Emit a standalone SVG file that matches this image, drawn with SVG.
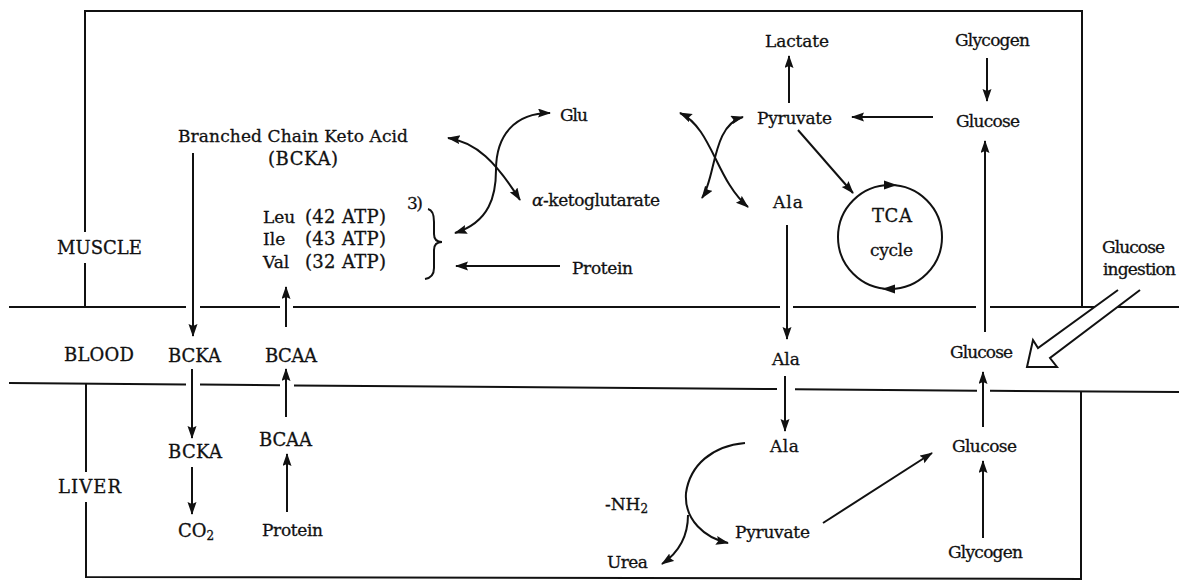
<svg xmlns="http://www.w3.org/2000/svg" width="1179" height="580" viewBox="0 0 1179 580">
<defs>
<style>
text{font-family:"DejaVu Serif","Liberation Serif",serif;font-size:17px;fill:#111;stroke:#111;stroke-width:0.3}
.cap{font-size:18px}
.ln{stroke:#111;stroke-width:2;fill:none}
.ar{stroke:#111;stroke-width:2;fill:none;marker-end:url(#ah)}
.ar2{stroke:#111;stroke-width:2;fill:none;marker-end:url(#ah);marker-start:url(#ah)}
</style>
<marker id="ah" markerUnits="userSpaceOnUse" markerWidth="14" markerHeight="10" refX="12" refY="4.5" orient="auto-start-reverse" viewBox="0 0 14 10">
<path d="M0,0 L13,4.5 L0,9 L2,4.5 z" fill="#111"/>
</marker>
</defs>
<rect width="1179" height="580" fill="#fff"/>

<g id="compartments" class="ln">
<path d="M85,232 L85,11 L1082,11 L1082,307"/>
<path d="M85,263 L85,307"/>
<path d="M9,307 L186,307 M200,307 L280,307 M293,307 L780,307 M793,307 L976,307 M990,307 L1179,307"/>
<path d="M9,383 L186,384.4 M200,384.5 L280,385.3 M294,385.4 L777,389.1 M795,389.3 L977,390.7 M990,390.8 L1179,392"/>
<path d="M86,384 L86,472 M86,502 L86,577 L1081,579 L1081,391"/>
</g>

<g id="connectors">
<line class="ar" x1="193" y1="153" x2="193" y2="336"/>
<line class="ar" x1="192" y1="369" x2="192" y2="438"/>
<line class="ar" x1="192" y1="467" x2="192" y2="514"/>
<line class="ar" x1="286" y1="327" x2="286" y2="287"/>
<line class="ar" x1="286" y1="417" x2="286" y2="369"/>
<line class="ar" x1="287" y1="512" x2="287" y2="454"/>
<line class="ar" x1="560" y1="266" x2="456" y2="266"/>
<path class="ar2" d="M455,233 C490,222 496,195 496,170 C496,135 515,113 550,113"/>
<path class="ar2" d="M448,138 C476,142 496,162 520,200"/>
<path class="ar2" d="M680,113 C712,128 716,180 748,207"/>
<path class="ar2" d="M702,198 C716,178 712,125 743,117"/>
<line class="ar" x1="789" y1="103" x2="789" y2="56"/>
<line class="ar" x1="987" y1="58" x2="987" y2="101"/>
<line class="ar" x1="933" y1="117" x2="852" y2="117"/>
<line class="ar" x1="798" y1="130" x2="853" y2="193"/>
<circle cx="890" cy="237" r="52" class="ln"/>
<path d="M897,185 L884,180.5 L884,189.5 z" fill="#111"/>
<path d="M882,289 L895,284.5 L895,293.5 z" fill="#111"/>
<line class="ar" x1="787" y1="225" x2="787" y2="339"/>
<line class="ar" x1="785" y1="376" x2="785" y2="431"/>
<line class="ar" x1="985" y1="332" x2="985" y2="141"/>
<line class="ar" x1="983" y1="427" x2="983" y2="372"/>
<line class="ar" x1="983" y1="538" x2="983" y2="461"/>
<line class="ar" x1="823" y1="523" x2="932" y2="453"/>
<path class="ar" d="M745,443 C712,446 690,465 686,493 C684,520 705,538 728,543"/>
<path class="ar" d="M688,515 C688,538 678,553 662,564"/>
<path class="ln" d="M428,209 C433,210 434,215 434,222 L434,234 C434,239 437,242 442,242 C437,242 434,245 434,250 L434,268 C434,274 431,278 425,279"/>
<path d="M1118,290 L1038,348 L1033,340 L1027,367 L1057,367 L1050,358 L1140,290" fill="#fff" stroke="#111" stroke-width="2" stroke-linejoin="miter"/>
</g>

<g id="labels">
<text class="cap" x="57" y="254" textLength="85">MUSCLE</text>
<text class="cap" x="64" y="361" textLength="70">BLOOD</text>
<text class="cap" x="58" y="493" textLength="63">LIVER</text>
</g>

<g id="node-bcka-muscle">
<text x="178" y="142" textLength="230">Branched Chain Keto Acid</text>
<text class="cap" x="268" y="165" textLength="70">(BCKA)</text>
</g>
<g id="node-bcaa-muscle">
<text x="263" y="223">Leu</text><text class="cap" x="305" y="223" textLength="81">(42 ATP)</text>
<text x="263" y="245">Ile</text><text class="cap" x="305" y="245" textLength="81">(43 ATP)</text>
<text x="263" y="268">Val</text><text class="cap" x="305" y="268" textLength="81">(32 ATP)</text>
<text x="407" y="209" textLength="16">3)</text>
</g>
<g id="node-glu"><text x="560" y="121" textLength="28">Glu</text></g>
<g id="node-akg"><text x="532" y="206" textLength="128"><tspan font-style="italic">α</tspan>-ketoglutarate</text></g>
<g id="node-protein-muscle"><text x="572" y="274" textLength="61">Protein</text></g>
<g id="node-lactate"><text x="765" y="47" textLength="64">Lactate</text></g>
<g id="node-pyruvate-muscle"><text x="757" y="124" textLength="75">Pyruvate</text></g>
<g id="node-ala-muscle"><text x="773" y="208" textLength="30">Ala</text></g>
<g id="node-tca"><text class="cap" x="872" y="222" textLength="40">TCA</text><text x="870" y="256" textLength="43">cycle</text></g>
<g id="node-glycogen-muscle"><text x="955" y="46" textLength="75">Glycogen</text></g>
<g id="node-glucose-muscle"><text x="956" y="127" textLength="64">Glucose</text></g>
<g id="node-ingestion"><text x="1102" y="253" textLength="63">Glucose</text><text x="1103" y="275" textLength="73">ingestion</text></g>
<g id="node-bcka-blood"><text class="cap" x="168" y="362" textLength="53">BCKA</text></g>
<g id="node-bcaa-blood"><text class="cap" x="265" y="362" textLength="52">BCAA</text></g>
<g id="node-ala-blood"><text x="772" y="365" textLength="28">Ala</text></g>
<g id="node-glucose-blood"><text x="950" y="358" textLength="63">Glucose</text></g>
<g id="node-bcka-liver"><text class="cap" x="168" y="458" textLength="54">BCKA</text></g>
<g id="node-bcaa-liver"><text class="cap" x="259" y="446" textLength="53">BCAA</text></g>
<g id="node-co2"><text class="cap" x="178" y="537">CO<tspan font-size="12" dy="3">2</tspan></text></g>
<g id="node-protein-liver"><text x="262" y="536" textLength="61">Protein</text></g>
<g id="node-ala-liver"><text x="770" y="452" textLength="29">Ala</text></g>
<g id="node-nh2"><text x="605" y="510">-NH<tspan font-size="12" dy="3">2</tspan></text></g>
<g id="node-pyruvate-liver"><text x="735" y="538" textLength="75">Pyruvate</text></g>
<g id="node-urea"><text x="607" y="568" textLength="41">Urea</text></g>
<g id="node-glucose-liver"><text x="952" y="452" textLength="65">Glucose</text></g>
<g id="node-glycogen-liver"><text x="948" y="558" textLength="75">Glycogen</text></g>
</svg>
